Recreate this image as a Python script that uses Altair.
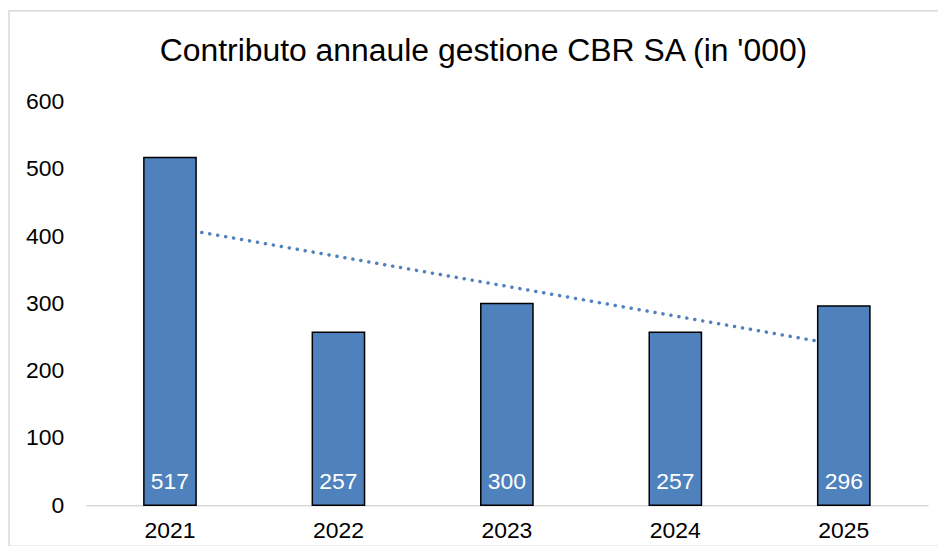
import altair as alt
import pandas as pd

years = [2021, 2022, 2023, 2024, 2025]
values = [517, 257, 300, 257, 296]
title_text = "Contributo annaule gestione CBR SA (in '000)"

df = pd.DataFrame({"year": years, "value": values})
FONT = "Liberation Sans"
W, H = 845, 405

base = alt.Chart(df)
xenc = alt.X("year:O", title=None,
             scale=alt.Scale(paddingInner=0.69, paddingOuter=0.345),
             axis=alt.Axis(labelAngle=0, labelFontSize=23, labelFont=FONT, labelColor="#000",
                           ticks=False, domainColor="#d9d9d9", domainWidth=1.5, labelPadding=14))
yenc = alt.Y("value:Q", title=None,
             scale=alt.Scale(domain=[0, 600]),
             axis=alt.Axis(values=[0, 100, 200, 300, 400, 500, 600], labelFontSize=23, labelFont=FONT,
                           labelColor="#000", ticks=False, domain=False, grid=False, labelPadding=22))

border = alt.Chart(pd.DataFrame({"a": [0]})).mark_rect(
    fill=None, stroke="#d9d9d9", strokeWidth=1.5
).encode(x=alt.value(-77), x2=alt.value(859), y=alt.value(-91), y2=alt.value(446))

title = alt.Chart(pd.DataFrame({"t": [title_text]})).mark_text(
    font=FONT, fontSize=32, color="#000", align="center", baseline="alphabetic"
).encode(text="t:N", x=alt.value(399), y=alt.value(-41))

trend = base.transform_regression("year", "value").mark_line(
    color="#4F81BD", strokeWidth=3.5, strokeDash=[0.1, 8], strokeCap="round"
).encode(x=xenc, y=yenc)

bars = base.mark_bar(fill="#4F81BD", stroke="#000", strokeWidth=1.5).encode(x=xenc, y=yenc)

labels = base.mark_text(font=FONT, fontSize=23, color="white", baseline="alphabetic", dy=-16).encode(
    x=xenc, y=alt.datum(0), text="value:Q")

chart = alt.layer(border, title, trend, bars, labels).properties(
    width=W, height=H,
    autosize=alt.AutoSizeParams(type="none"),
    padding={"left": 78, "top": 93, "right": 10, "bottom": 40},
).configure(background="white").configure_view(stroke=None, strokeWidth=0)

chart.save("out.html", embed_options={"renderer": "svg", "actions": False})
